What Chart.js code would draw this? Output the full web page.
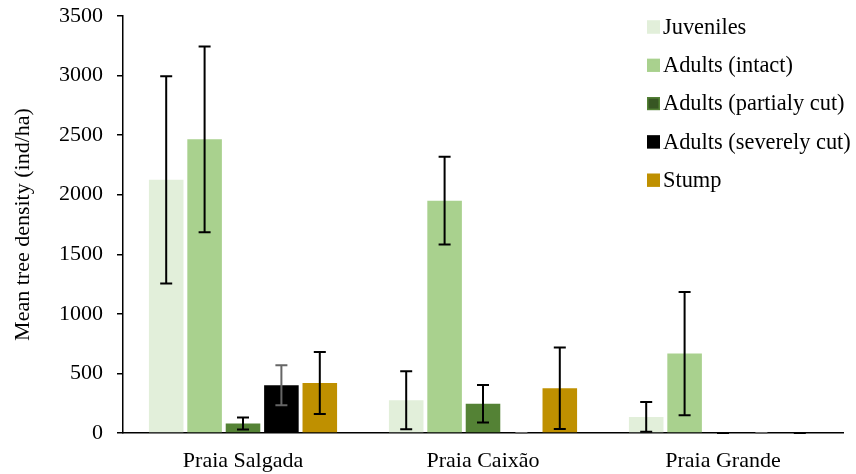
<!DOCTYPE html>
<html>
<head>
<meta charset="utf-8">
<script src="https://cdn.jsdelivr.net/npm/chart.js@4/dist/chart.umd.min.js"></script>
<style>
  html, body { margin: 0; padding: 0; background: #ffffff; }
  #wrap { width: 856px; height: 474px; }
</style>
</head>
<body>
<div id="wrap"><canvas id="chart" width="856" height="474"></canvas></div>
<script>
// Sites
const sites = ['Praia Salgada', 'Praia Caixão', 'Praia Grande'];

// Mean densities (ind/ha) and their error half-widths, per tree class
const juveniles        = [2125, 275, 135];
const juvenilesErr     = [870, 243, 125];
const adultsIntact     = [2465, 1950, 667];
const adultsIntactErr  = [780, 368, 517];
const adultsPartial    = [80, 245, 0];
const adultsPartialErr = [50, 157, 0];
const adultsSevere     = [400, 0, 0];
const adultsSevereErr  = [168, 0, 0];
const stump            = [420, 375, 0];
const stumpErr         = [260, 342, 0];

// Y axis ticks
const yTicks = [0, 500, 1000, 1500, 2000, 2500, 3000, 3500];

const seriesNames = ['Juveniles', 'Adults (intact)', 'Adults (partialy cut)', 'Adults (severely cut)', 'Stump'];

const FONT = "'Liberation Serif', 'Times New Roman', serif";

const series = [
  { name: seriesNames[0], data: juveniles,     err: juvenilesErr,     fill: '#E2EFDA', errColor: '#000000', key: '#E2EFDA', keyBorder: '#E2EFDA' },
  { name: seriesNames[1], data: adultsIntact,  err: adultsIntactErr,  fill: '#A9D18E', errColor: '#000000', key: '#A9D18E', keyBorder: '#A9D18E' },
  { name: seriesNames[2], data: adultsPartial, err: adultsPartialErr, fill: '#548235', errColor: '#000000', key: '#375623', keyBorder: '#548235' },
  { name: seriesNames[3], data: adultsSevere,  err: adultsSevereErr,  fill: '#000000', errColor: '#666666', key: '#000000', keyBorder: '#000000' },
  { name: seriesNames[4], data: stump,         err: stumpErr,         fill: '#BF9000', errColor: '#000000', key: '#BF9000', keyBorder: '#BF9000' }
];

// Draws the error bars on top of each bar, using the value scale
const errorBars = {
  id: 'errorBars',
  afterDatasetsDraw(chart) {
    const ctx = chart.ctx;
    const y = chart.scales.y;
    chart.data.datasets.forEach((ds, i) => {
      const meta = chart.getDatasetMeta(i);
      meta.data.forEach((bar, j) => {
        const v = ds.data[j];
        const e = ds.errors[j];
        const top = y.getPixelForValue(v + e);
        const bot = y.getPixelForValue(Math.max(v - e, 0));
        ctx.save();
        ctx.strokeStyle = ds.errorColor;
        ctx.lineWidth = 2;
        ctx.beginPath();
        ctx.moveTo(bar.x, top); ctx.lineTo(bar.x, bot);
        ctx.moveTo(bar.x - 6, top); ctx.lineTo(bar.x + 6, top);
        ctx.moveTo(bar.x - 6, bot); ctx.lineTo(bar.x + 6, bot);
        ctx.stroke();
        ctx.restore();
      });
    });
  }
};

// Legend drawn inside the plot, upper right
const keyBox = {
  id: 'keyBox',
  afterDraw(chart) {
    const ctx = chart.ctx;
    ctx.save();
    ctx.font = '22.4px ' + FONT;
    ctx.textBaseline = 'middle';
    ctx.textAlign = 'left';
    chart.data.datasets.forEach((ds, i) => {
      const cy = 27 + i * 38.3;
      ctx.fillStyle = ds.keyColor;
      ctx.fillRect(647, cy - 6.5, 13, 13);
      ctx.strokeStyle = ds.keyBorder;
      ctx.lineWidth = 1.5;
      ctx.strokeRect(647.75, cy - 5.75, 11.5, 11.5);
      ctx.fillStyle = '#000000';
      ctx.fillText(ds.label, 663, cy + 1);
    });
    ctx.restore();
  }
};

new Chart(document.getElementById('chart'), {
  type: 'bar',
  data: {
    labels: sites,
    datasets: series.map(s => ({
      label: s.name,
      data: s.data,
      errors: s.err,
      errorColor: s.errColor,
      keyColor: s.key,
      keyBorder: s.keyBorder,
      backgroundColor: s.fill,
      borderWidth: 0,
      categoryPercentage: 0.8,
      barPercentage: 0.9
    }))
  },
  options: {
    responsive: false,
    animation: false,
    layout: { padding: { top: 16, right: 13, bottom: 0, left: 0 } },
    plugins: {
      legend: { display: false },
      tooltip: { enabled: false }
    },
    scales: {
      x: {
        grid: { display: false, drawTicks: false },
        border: { display: true, color: '#000000', width: 1.5 },
        ticks: { color: '#000000', padding: 15, font: { family: FONT, size: 22 } },
        afterFit(scale) { scale.height = 41; scale.paddingLeft = 0; scale.paddingRight = 0; }
      },
      y: {
        min: 0,
        max: 3500,
        grid: { drawOnChartArea: false, drawTicks: true, tickLength: 6, color: '#000000', lineWidth: 1.5 },
        border: { display: true, color: '#000000', width: 1.5 },
        afterBuildTicks(scale) { scale.ticks = yTicks.map(v => ({ value: v })); },
        ticks: {
          color: '#000000',
          padding: 14,
          font: { family: FONT, size: 22 },
          callback: v => String(v)
        },
        title: {
          display: true,
          text: 'Mean tree density (ind/ha)',
          color: '#000000',
          padding: { top: 10, bottom: 0 },
          font: { family: FONT, size: 22 }
        },
        afterFit(scale) { scale.width = 123; scale.paddingTop = 0; scale.paddingBottom = 0; }
      }
    }
  },
  plugins: [errorBars, keyBox]
});
</script>
</body>
</html>
